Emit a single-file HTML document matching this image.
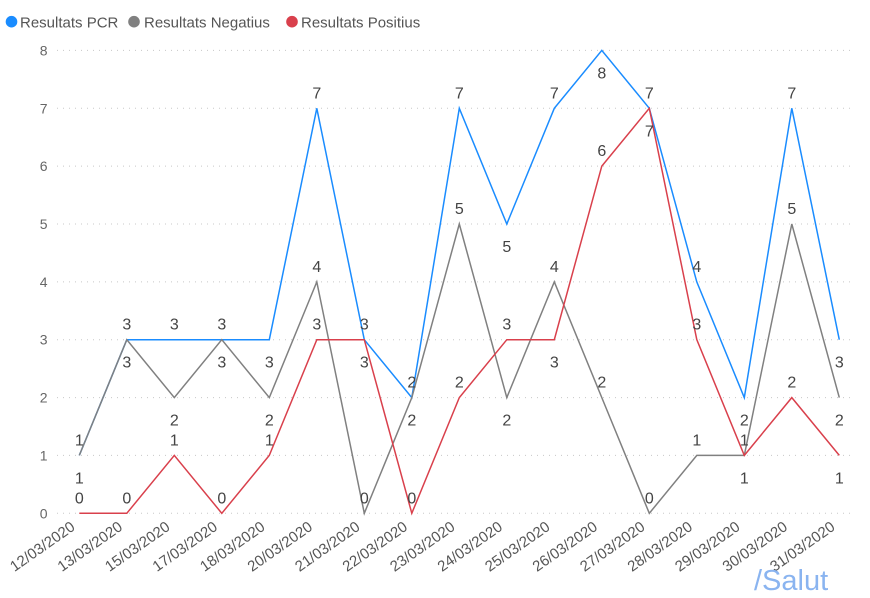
<!DOCTYPE html>
<html><head><meta charset="utf-8"><style>
html,body{margin:0;padding:0;background:#fff;}
svg{display:block;font-family:"Liberation Sans","DejaVu Sans",sans-serif;}
</style></head><body>
<svg width="870" height="598" viewBox="0 0 870 598" xmlns="http://www.w3.org/2000/svg">
<rect width="870" height="598" fill="#fff"/>
<!-- legend -->
<circle cx="11.5" cy="21.7" r="5.8" fill="#1A8CFF"/>
<text x="20" y="27.5" font-size="15" fill="#555">Resultats PCR</text>
<circle cx="134" cy="21.7" r="5.8" fill="#808080"/>
<text x="144" y="27.5" font-size="15" fill="#555">Resultats Negatius</text>
<circle cx="292" cy="21.7" r="5.8" fill="#D9404C"/>
<text x="301" y="27.5" font-size="15" fill="#555">Resultats Positius</text>
<!-- grid -->
<g stroke="#c8c8c8" stroke-width="1" stroke-dasharray="1 5">
<line x1="57" x2="855" y1="513.3" y2="513.3"/>
<line x1="57" x2="855" y1="455.4" y2="455.4"/>
<line x1="57" x2="855" y1="397.6" y2="397.6"/>
<line x1="57" x2="855" y1="339.7" y2="339.7"/>
<line x1="57" x2="855" y1="281.9" y2="281.9"/>
<line x1="57" x2="855" y1="224.0" y2="224.0"/>
<line x1="57" x2="855" y1="166.1" y2="166.1"/>
<line x1="57" x2="855" y1="108.3" y2="108.3"/>
<line x1="57" x2="855" y1="50.4" y2="50.4"/>
</g>
<!-- y labels -->
<g font-size="14" fill="#666" text-anchor="end">
<text x="47.5" y="518.3">0</text>
<text x="47.5" y="460.4">1</text>
<text x="47.5" y="402.6">2</text>
<text x="47.5" y="344.7">3</text>
<text x="47.5" y="286.9">4</text>
<text x="47.5" y="229">5</text>
<text x="47.5" y="171.1">6</text>
<text x="47.5" y="113.3">7</text>
<text x="47.5" y="55.4">8</text>
</g>
<!-- x labels -->
<g font-size="15" fill="#555" text-anchor="end">
<text transform="translate(76,529) rotate(-35)">12/03/2020</text>
<text transform="translate(123.5,529) rotate(-35)">13/03/2020</text>
<text transform="translate(171,529) rotate(-35)">15/03/2020</text>
<text transform="translate(218.5,529) rotate(-35)">17/03/2020</text>
<text transform="translate(266,529) rotate(-35)">18/03/2020</text>
<text transform="translate(313.5,529) rotate(-35)">20/03/2020</text>
<text transform="translate(361,529) rotate(-35)">21/03/2020</text>
<text transform="translate(408.5,529) rotate(-35)">22/03/2020</text>
<text transform="translate(456,529) rotate(-35)">23/03/2020</text>
<text transform="translate(503.5,529) rotate(-35)">24/03/2020</text>
<text transform="translate(551,529) rotate(-35)">25/03/2020</text>
<text transform="translate(598.5,529) rotate(-35)">26/03/2020</text>
<text transform="translate(646,529) rotate(-35)">27/03/2020</text>
<text transform="translate(693.5,529) rotate(-35)">28/03/2020</text>
<text transform="translate(741,529) rotate(-35)">29/03/2020</text>
<text transform="translate(788.5,529) rotate(-35)">30/03/2020</text>
<text transform="translate(836,529) rotate(-35)">31/03/2020</text>
</g>
<!-- series -->
<g fill="none" stroke-width="1.5" stroke-linejoin="miter">
<polyline stroke="#1A8CFF" points="79.3,455.4 126.8,339.7 174.3,339.7 221.8,339.7 269.3,339.7 316.8,108.3 364.3,339.7 411.8,397.6 459.3,108.3 506.8,224.0 554.3,108.3 601.8,50.4 649.3,108.3 696.8,281.9 744.3,397.6 791.8,108.3 839.3,339.7"/>
<polyline stroke="#808080" points="79.3,455.4 126.8,339.7 174.3,397.6 221.8,339.7 269.3,397.6 316.8,281.9 364.3,513.3 411.8,397.6 459.3,224.0 506.8,397.6 554.3,281.9 601.8,397.6 649.3,513.3 696.8,455.4 744.3,455.4 791.8,224.0 839.3,397.6"/>
<polyline stroke="#D9404C" points="79.3,513.3 126.8,513.3 174.3,455.4 221.8,513.3 269.3,455.4 316.8,339.7 364.3,339.7 411.8,513.3 459.3,397.6 506.8,339.7 554.3,339.7 601.8,166.1 649.3,108.3 696.8,339.7 744.3,455.4 791.8,397.6 839.3,455.4"/>
</g>
<!-- data labels -->
<g font-size="16" fill="#444" text-anchor="middle">
<!-- PCR -->
<text x="79.3" y="445.4">1</text>
<text x="126.8" y="329.7">3</text>
<text x="174.3" y="329.7">3</text>
<text x="221.8" y="329.7">3</text>
<text x="269.3" y="367.7">3</text>
<text x="316.8" y="98.3">7</text>
<text x="364.3" y="329.7">3</text>
<text x="411.8" y="387.6">2</text>
<text x="459.3" y="98.3">7</text>
<text x="506.8" y="252">5</text>
<text x="554.3" y="98.3">7</text>
<text x="601.8" y="78.4">8</text>
<text x="649.3" y="98.3">7</text>
<text x="696.8" y="271.9">4</text>
<text x="744.3" y="425.6">2</text>
<text x="791.8" y="98.3">7</text>
<text x="839.3" y="367.7">3</text>
<!-- Neg -->
<text x="79.3" y="483.4">1</text>
<text x="126.8" y="367.7">3</text>
<text x="174.3" y="425.6">2</text>
<text x="221.8" y="367.7">3</text>
<text x="269.3" y="425.6">2</text>
<text x="316.8" y="271.9">4</text>
<text x="364.3" y="503.3">0</text>
<text x="411.8" y="425.6">2</text>
<text x="459.3" y="214">5</text>
<text x="506.8" y="425.6">2</text>
<text x="554.3" y="271.9">4</text>
<text x="601.8" y="387.6">2</text>
<text x="649.3" y="503.3">0</text>
<text x="696.8" y="445.4">1</text>
<text x="744.3" y="445.4">1</text>
<text x="791.8" y="214">5</text>
<text x="839.3" y="425.6">2</text>
<!-- Pos -->
<text x="79.3" y="503.3">0</text>
<text x="126.8" y="503.3">0</text>
<text x="174.3" y="445.4">1</text>
<text x="221.8" y="503.3">0</text>
<text x="269.3" y="445.4">1</text>
<text x="316.8" y="329.7">3</text>
<text x="364.3" y="367.7">3</text>
<text x="411.8" y="503.3">0</text>
<text x="459.3" y="387.6">2</text>
<text x="506.8" y="329.7">3</text>
<text x="554.3" y="367.7">3</text>
<text x="601.8" y="156.1">6</text>
<text x="649.3" y="136.3">7</text>
<text x="696.8" y="329.7">3</text>
<text x="744.3" y="483.4">1</text>
<text x="791.8" y="387.6">2</text>
<text x="839.3" y="483.4">1</text>
</g>
<!-- watermark -->
<text x="754" y="590" font-size="29" fill="#8AB4F0">/Salut</text>
</svg>
</body></html>
